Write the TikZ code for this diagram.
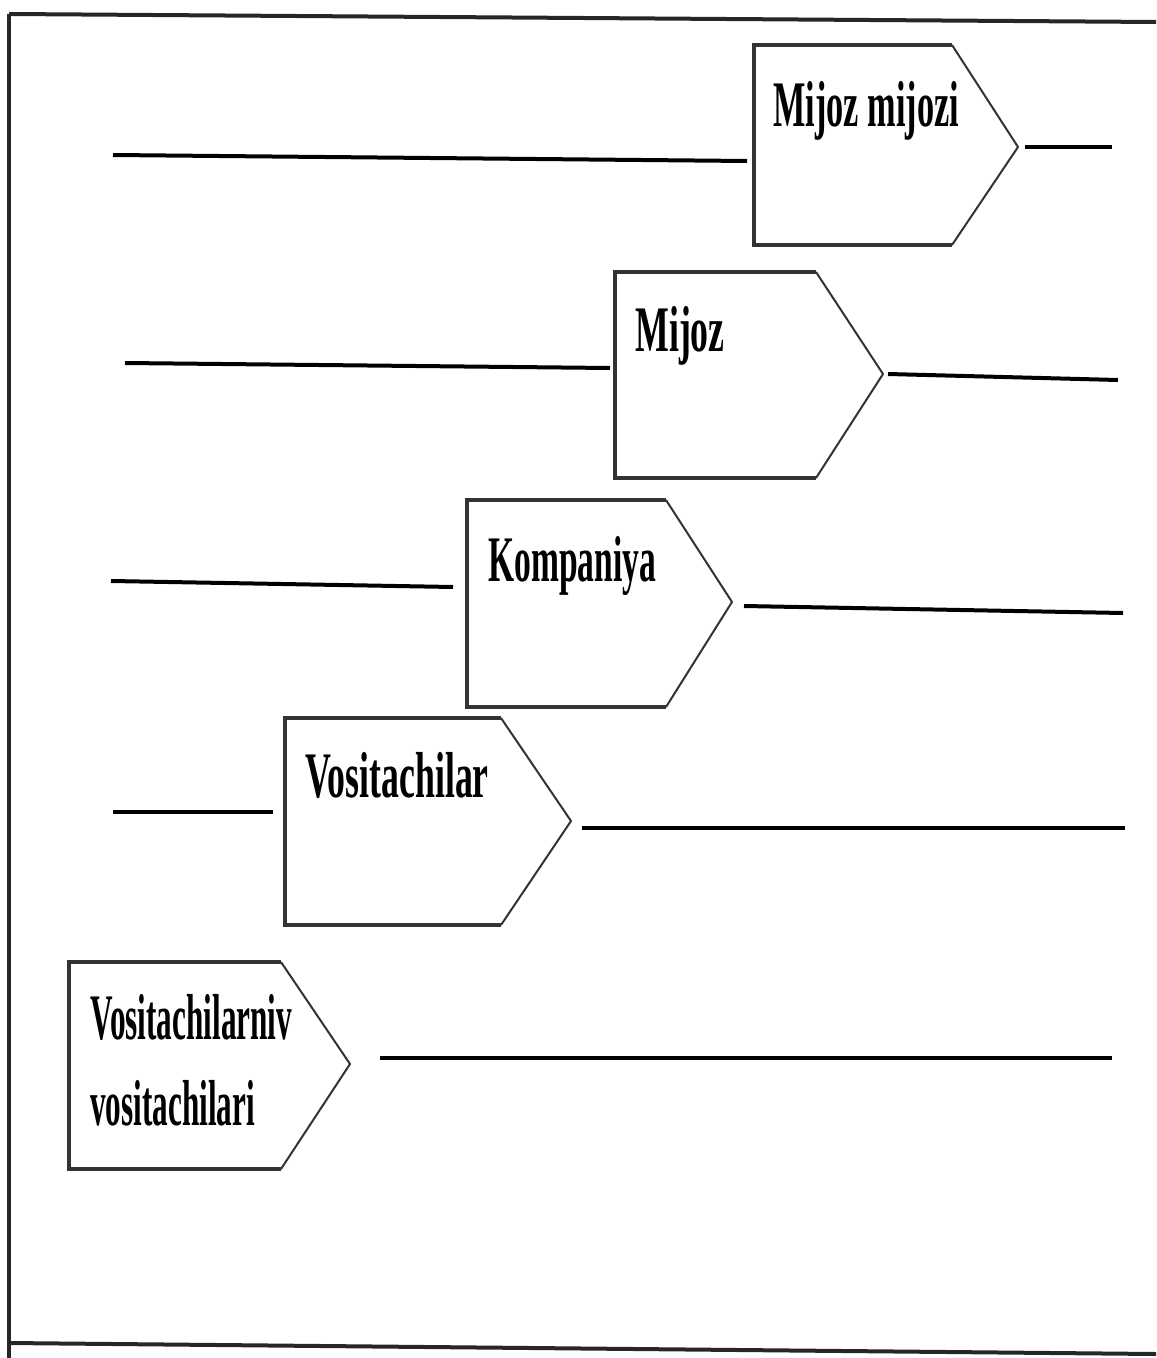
\documentclass[tikz,border=0pt]{standalone}
\usepackage{fontspec}
\setmainfont{Liberation Serif}
\usepackage{graphicx}
\newcommand{\narrow}[2][0.55]{\scalebox{#1}[1]{#2}}

\begin{document}
\begin{tikzpicture}[x=0.02cm,y=-0.02cm,
  rule/.style={line width=0.08cm, black},
  frameline/.style={line width=0.08cm, black!85},
  boxside/.style={line width=0.065cm, black!80},
  boxpoint/.style={line width=0.04cm, black!80},
  label/.style={anchor=base west, inner sep=0pt, align=left,
    font=\fontsize{37}{48.4}\selectfont\bfseries}]

\useasboundingbox (0,0) rectangle (1156,1358);

% outer frame (open on the right)
\coordinate (ftl) at (9,14);
\coordinate (ftr) at (1156,22);
\coordinate (fbl) at (9,1343);
\coordinate (fbr) at (1156,1354);
\coordinate (flb) at (9,1358);
\draw[frameline] (ftl) -- (ftr);
\draw[frameline] (fbl) -- (fbr);
\draw[frameline] (ftl) -- (flb);

% pentagon boxes: rectangle body plus pointed right end
% 1: Mijoz mijozi
\draw[boxside] (952,45) -- (754,45) -- (754,245) -- (952,245);
\draw[boxpoint] (952,45) -- (1018,147) -- (952,245);
\coordinate (b1e) at (1018,147);
\node[label] (t1) at (773,127) {\narrow[0.527]{Mijoz mijozi}};

% 2: Mijoz
\draw[boxside] (816,272) -- (615,272) -- (615,478) -- (816,478);
\draw[boxpoint] (816,272) -- (883,374) -- (816,478);
\coordinate (b2e) at (883,374);
\node[label] (t2) at (635,351) {\narrow{Mijoz}};

% 3: Kompaniya
\draw[boxside] (666,500) -- (467,500) -- (467,707) -- (666,707);
\draw[boxpoint] (666,500) -- (732,602) -- (666,707);
\coordinate (b3e) at (732,602);
\node[label] (t3) at (488,581) {\narrow[0.516]{Kompaniya}};

% 4: Vositachilar
\draw[boxside] (501,718) -- (285,718) -- (285,925) -- (501,925);
\draw[boxpoint] (501,718) -- (571,821) -- (501,925);
\coordinate (b4e) at (571,821);
\node[label] (t4) at (305,797) {\narrow{Vositachilar}};

% 5: Vositachilarniv vositachilari (two lines, base anchor = last line)
\draw[boxside] (281,962) -- (69,962) -- (69,1169) -- (281,1169);
\draw[boxpoint] (281,962) -- (350,1064) -- (281,1169);
\coordinate (b5e) at (350,1064);
\node[label] (t5) at (90,1125) {\narrow[0.48]{Vositachilarniv}\\\narrow[0.48]{vositachilari}};

% horizontal rules beside the boxes
\coordinate (r1a) at (113,155);  \coordinate (r1b) at (747,161);
\coordinate (r1c) at (1025,147); \coordinate (r1d) at (1112,147);
\coordinate (r2a) at (125,363);  \coordinate (r2b) at (610,368);
\coordinate (r2c) at (888,374);  \coordinate (r2d) at (1118,380);
\coordinate (r3a) at (111,581);  \coordinate (r3b) at (453,587);
\coordinate (r3c) at (744,606);  \coordinate (r3d) at (1123,613);
\coordinate (r4a) at (113,812);  \coordinate (r4b) at (273,812);
\coordinate (r4c) at (582,828);  \coordinate (r4d) at (1125,828);
\coordinate (r5c) at (380,1058); \coordinate (r5d) at (1112,1058);

\draw[rule] (r1a) -- (r1b);
\draw[rule] (r1c) -- (r1d);
\draw[rule] (r2a) -- (r2b);
\draw[rule] (r2c) -- (r2d);
\draw[rule] (r3a) -- (r3b);
\draw[rule] (r3c) -- (r3d);
\draw[rule] (r4a) -- (r4b);
\draw[rule] (r4c) -- (r4d);
\draw[rule] (r5c) -- (r5d);
\end{tikzpicture}
\end{document}
